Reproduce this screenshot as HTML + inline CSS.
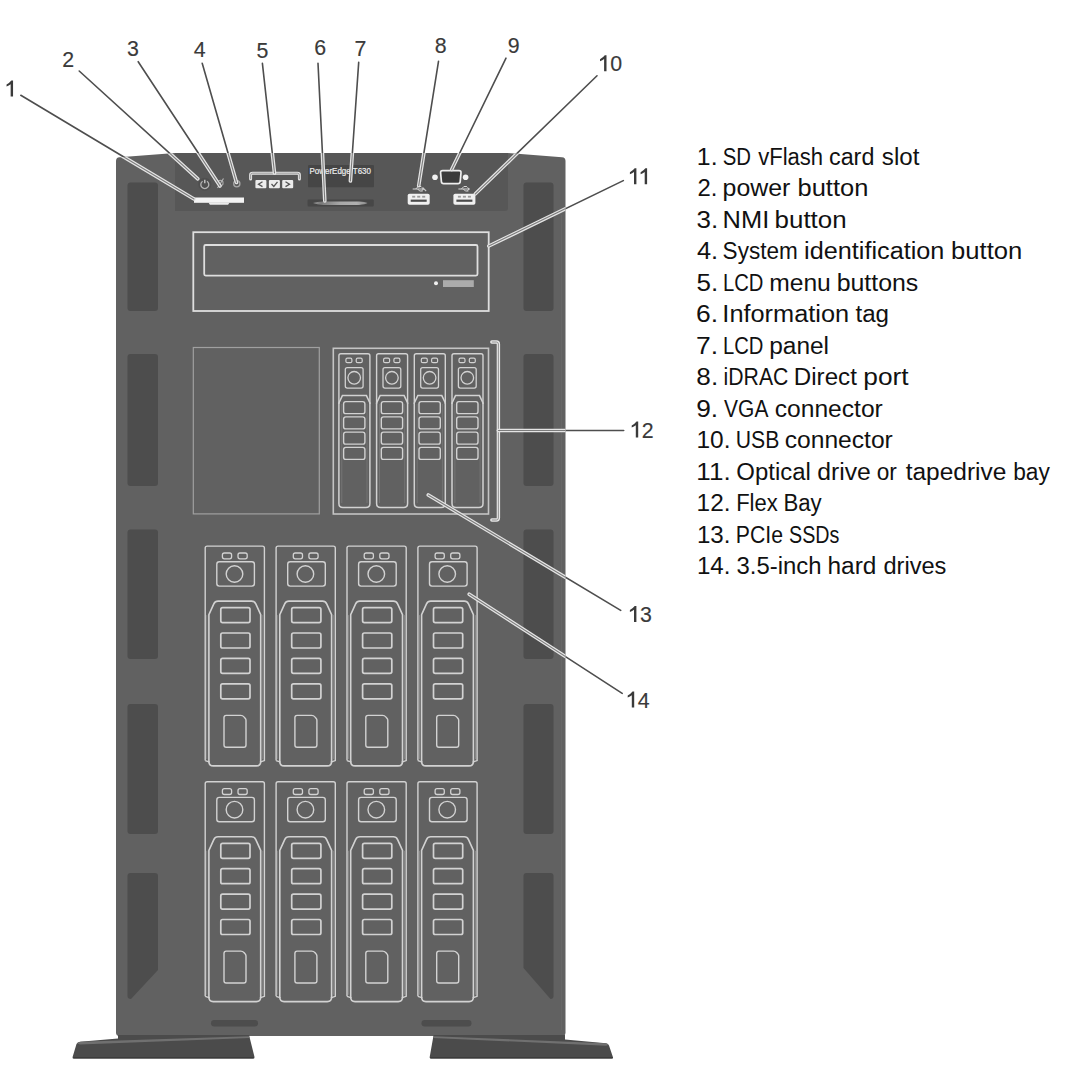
<!DOCTYPE html>
<html><head><meta charset="utf-8"><style>
html,body{margin:0;padding:0;background:#ffffff;width:1080px;height:1080px;overflow:hidden}
svg{display:block}
text{font-family:"Liberation Sans",sans-serif}
</style></head><body>
<svg width="1080" height="1080" viewBox="0 0 1080 1080">
<defs><linearGradient id="tagg" x1="0" x2="1" y1="0" y2="0"><stop offset="0" stop-color="#9a9a9a"/><stop offset="0.15" stop-color="#7a7a7a"/><stop offset="0.5" stop-color="#a8a8a8"/><stop offset="0.8" stop-color="#b0b0b0"/><stop offset="1" stop-color="#8a8a8a"/></linearGradient><clipPath id="bodyclip"><path d="M116,161 Q116,157.6 119.5,157.3 L175,153 L508,153 L562,157.3 Q565.5,157.6 565.5,161 L565.5,1032.5 Q565.5,1036 562,1036 L119.5,1036 Q116,1036 116,1032.5 Z"/></clipPath></defs>
<rect width="1080" height="1080" fill="#ffffff"/>
<path d="M116,161 Q116,157.6 119.5,157.3 L175,153 L508,153 L562,157.3 Q565.5,157.6 565.5,161 L565.5,1032.5 Q565.5,1036 562,1036 L119.5,1036 Q116,1036 116,1032.5 Z" fill="#616161"/><rect x="561" y="215" width="0.9" height="815" fill="#686868"/><path d="M175,153 L508,153 L508,208 Q508,211 505,211 L175,211 Z" fill="#575757"/><rect x="127.5" y="182.5" width="30.5" height="128.5" rx="3" fill="#4d4d4d"/><rect x="523.5" y="182.5" width="30" height="128.5" rx="3" fill="#4d4d4d"/><rect x="127.5" y="354" width="30.5" height="132" rx="3" fill="#4d4d4d"/><rect x="523.5" y="354" width="30" height="132" rx="3" fill="#4d4d4d"/><rect x="127.5" y="529.5" width="30.5" height="129.5" rx="3" fill="#4d4d4d"/><rect x="523.5" y="529.5" width="30" height="129.5" rx="3" fill="#4d4d4d"/><rect x="127.5" y="704" width="30.5" height="130" rx="3" fill="#4d4d4d"/><rect x="523.5" y="704" width="30" height="130" rx="3" fill="#4d4d4d"/><path d="M130.5,873 L155,873 Q158,873 158,876 L158,970 L131,999 Q127.5,999 127.5,996 L127.5,876 Q127.5,873 130.5,873 Z" fill="#4d4d4d"/><path d="M526.5,873 L550.5,873 Q553.5,873 553.5,876 L553.5,996 Q553.5,999 550.5,999 L523.5,968 L523.5,876 Q523.5,873 526.5,873 Z" fill="#4d4d4d"/><rect x="211" y="1020" width="47" height="6.5" rx="3.2" fill="#4d4d4d"/><rect x="421.5" y="1020" width="50" height="6.5" rx="3.2" fill="#4d4d4d"/><path d="M73.5,1058.5 Q72.2,1058.5 72.6,1057 L76.5,1044 Q77.3,1042 80,1041.7 L118,1038.5 L118,1035 L249,1035 L254.5,1057 Q254.8,1058.5 253.3,1058.5 Z" fill="#4b4b4b"/><path d="M77.2,1043.6 Q78,1042 80.5,1041.7 L249,1036.2 L249.4,1038 L80,1044.4 Z" fill="#707070"/><rect x="73" y="1057" width="181" height="1.6" rx="0.8" fill="#3c3c3c"/><path d="M612,1058.5 Q613.3,1058.5 612.9,1057 L609,1045.5 Q608.3,1043.6 606,1043.3 L565,1039.5 L565,1035 L433.6,1035 L429.7,1057 Q429.4,1058.5 431,1058.5 Z" fill="#4b4b4b"/><path d="M608.3,1045 Q607.5,1043.6 605.5,1043.3 L433.6,1036.2 L433.3,1038 L606,1045.8 Z" fill="#707070"/><rect x="430" y="1057" width="183" height="1.6" rx="0.8" fill="#3c3c3c"/><rect x="194" y="197.5" width="50" height="5.3" fill="#f4f4f4"/><path d="M208.5,202.5 L229.5,202.5 L228.5,204.3 Q228,204.8 227,204.8 L211,204.8 Q210,204.8 209.5,204.3 Z" fill="#ececec"/><circle cx="204.8" cy="184.2" r="6.5" fill="#4f4f4f"/><path d="M202.6,181.2 A4,4 0 1 0 207,181.2" fill="none" stroke="#b4b4b4" stroke-width="1.3"/><line x1="204.8" y1="179.8" x2="204.8" y2="183.2" stroke="#d0d0d0" stroke-width="1.3"/><circle cx="220.5" cy="183" r="2.6" fill="none" stroke="#a8a8a8" stroke-width="1.1"/><path d="M217.5,188 L223.5,178.5" stroke="#b8b8b8" stroke-width="1.1"/><circle cx="236.8" cy="183.8" r="3.1" fill="none" stroke="#a8a8a8" stroke-width="1.3"/><path d="M250.6,179 L250.6,175 Q250.6,173.2 252.6,173.2 L297.4,173.2 Q299.4,173.2 299.4,175 L299.4,179" fill="none" stroke="#e2e2e2" stroke-width="3" stroke-linecap="round"/><path d="M250.6,179 L250.6,175 Q250.6,173.2 252.6,173.2 L297.4,173.2 Q299.4,173.2 299.4,175 L299.4,179" fill="none" stroke="#8a8a8a" stroke-width="0.8"/><rect x="255.4" y="180" width="11" height="8.3" rx="1" fill="#ececec"/><rect x="268.9" y="180" width="11" height="8.3" rx="1" fill="#ececec"/><rect x="282.2" y="180" width="11" height="8.3" rx="1" fill="#ececec"/><path d="M262.5,181.8 L258.5,184.2 L262.5,186.6" fill="none" stroke="#555" stroke-width="1.3"/><path d="M271.5,184 L273.8,186.4 L277.5,181.8" fill="none" stroke="#555" stroke-width="1.3"/><path d="M285.5,181.8 L289.5,184.2 L285.5,186.6" fill="none" stroke="#555" stroke-width="1.3"/><rect x="308" y="165" width="66" height="22.2" rx="1" fill="#464646"/><text x="309.5" y="173.6" font-family="Liberation Sans" font-size="8.8" fill="#ededed" stroke="#ededed" stroke-width="0.2" textLength="61.5" lengthAdjust="spacingAndGlyphs">PowerEdge T630</text><rect x="307.6" y="199.5" width="66.2" height="7" rx="1" fill="#474747"/><path d="M313,203.1 Q317,201.6 323,201.4 L359,201.4 Q365,201.6 367.5,203.1 Q365,204.7 359,204.9 L323,204.9 Q317,204.7 313,203.1 Z" fill="url(#tagg)"/><rect x="407.7" y="193.8" width="22" height="11" rx="1.8" fill="#f0f0f0"/><rect x="410.7" y="199.6" width="16" height="2.2" fill="#4a4a4a"/><rect x="412.2" y="195.8" width="3" height="1.8" fill="#9a9a9a"/><rect x="417.2" y="195.8" width="3" height="1.8" fill="#9a9a9a"/><rect x="422.2" y="195.8" width="3" height="1.8" fill="#9a9a9a"/><path d="M412.7,189 L423.7,189 M423.7,189 l-2,-1.5 M423.7,189 l-2,1.5 M415.7,189 l2.5,-2.5 l3,0 M417.7,189 l2,2 l3,0" fill="none" stroke="#d8d8d8" stroke-width="1"/><rect x="453.4" y="193.8" width="22" height="11" rx="1.8" fill="#f0f0f0"/><rect x="456.4" y="199.6" width="16" height="2.2" fill="#4a4a4a"/><rect x="457.9" y="195.8" width="3" height="1.8" fill="#9a9a9a"/><rect x="462.9" y="195.8" width="3" height="1.8" fill="#9a9a9a"/><rect x="467.9" y="195.8" width="3" height="1.8" fill="#9a9a9a"/><path d="M458.4,189 L469.4,189 M469.4,189 l-2,-1.5 M469.4,189 l-2,1.5 M461.4,189 l2.5,-2.5 l3,0 M463.4,189 l2,2 l3,0" fill="none" stroke="#d8d8d8" stroke-width="1"/><path d="M442.6,170.6 L459,170.6 Q461.2,170.6 461,172.8 L460.2,181.6 Q460,183.6 458,183.6 L443.6,183.6 Q441.6,183.6 441.4,181.6 L440.6,172.8 Q440.4,170.6 442.6,170.6 Z" fill="#3c3c3c" stroke="#eeeeee" stroke-width="1.7"/><path d="M422.8,187.6 L426.2,191.2" stroke="#cfcfcf" stroke-width="1.1"/><circle cx="435" cy="177.3" r="2.8" fill="#f2f2f2"/><circle cx="465.6" cy="177.3" r="2.8" fill="#f2f2f2"/><rect x="193.3" y="232.2" width="295.4" height="78.8" fill="none" stroke="#dedede" stroke-width="1.8"/><rect x="204.2" y="245" width="273.3" height="30.6" rx="1.5" fill="none" stroke="#dedede" stroke-width="1.8"/><circle cx="436" cy="283.3" r="2" fill="#f0f0f0"/><rect x="443" y="280.2" width="30.8" height="6.8" fill="#ababab"/><rect x="193.3" y="347.5" width="126" height="166.4" fill="none" stroke="#a0a0a0" stroke-width="1.2"/><rect x="333.3" y="348.3" width="155.2" height="165.7" fill="none" stroke="#c4c4c4" stroke-width="1.6"/><path d="M491.8,342 L496.4,342 Q498.4,342 498.4,344 L498.4,518 Q498.4,520 496.4,520 L491.8,520" fill="none" stroke="#e6e6e6" stroke-width="3.4" stroke-linecap="round"/><path d="M491.8,342 L496.4,342 Q498.4,342 498.4,344 L498.4,518 Q498.4,520 496.4,520 L491.8,520" fill="none" stroke="#8a8a8a" stroke-width="0.9"/><path d="M338.9,404 L338.9,355.7 Q338.9,353.7 340.9,353.7 L367.9,353.7 Q369.9,353.7 369.9,355.7 L369.9,404" fill="none" stroke="#d2d2d2" stroke-width="1.4"/><path d="M338.9,403 L342.4,395.6 L366.4,395.6 L369.9,403 L369.9,503.5 Q369.9,507.5 365.9,507.5 L342.9,507.5 Q338.9,507.5 338.9,503.5 Z" fill="none" stroke="#d2d2d2" stroke-width="1.5"/><line x1="341.79999999999995" y1="404" x2="341.79999999999995" y2="503" stroke="#7a7a7a" stroke-width="0.8"/><line x1="367.0" y1="404" x2="367.0" y2="503" stroke="#7a7a7a" stroke-width="0.8"/><rect x="345.9" y="358.2" width="6" height="4.5" rx="1.5" fill="none" stroke="#d2d2d2" stroke-width="1.2"/><rect x="356.2" y="358.2" width="6" height="4.5" rx="1.5" fill="none" stroke="#d2d2d2" stroke-width="1.2"/><rect x="345.29999999999995" y="367.6" width="17.8" height="20.5" rx="2" fill="none" stroke="#d2d2d2" stroke-width="1.3"/><circle cx="354.2" cy="377.8" r="6.3" fill="none" stroke="#d2d2d2" stroke-width="1.3"/><rect x="343.59999999999997" y="401.60" width="21.3" height="12" rx="2.2" fill="none" stroke="#d2d2d2" stroke-width="1.4"/><rect x="343.59999999999997" y="416.85" width="21.3" height="12" rx="2.2" fill="none" stroke="#d2d2d2" stroke-width="1.4"/><rect x="343.59999999999997" y="432.10" width="21.3" height="12" rx="2.2" fill="none" stroke="#d2d2d2" stroke-width="1.4"/><rect x="343.59999999999997" y="447.35" width="21.3" height="12" rx="2.2" fill="none" stroke="#d2d2d2" stroke-width="1.4"/><path d="M376.6,404 L376.6,355.7 Q376.6,353.7 378.6,353.7 L405.6,353.7 Q407.6,353.7 407.6,355.7 L407.6,404" fill="none" stroke="#d2d2d2" stroke-width="1.4"/><path d="M376.6,403 L380.1,395.6 L404.1,395.6 L407.6,403 L407.6,503.5 Q407.6,507.5 403.6,507.5 L380.6,507.5 Q376.6,507.5 376.6,503.5 Z" fill="none" stroke="#d2d2d2" stroke-width="1.5"/><line x1="379.5" y1="404" x2="379.5" y2="503" stroke="#7a7a7a" stroke-width="0.8"/><line x1="404.70000000000005" y1="404" x2="404.70000000000005" y2="503" stroke="#7a7a7a" stroke-width="0.8"/><rect x="383.6" y="358.2" width="6" height="4.5" rx="1.5" fill="none" stroke="#d2d2d2" stroke-width="1.2"/><rect x="393.90000000000003" y="358.2" width="6" height="4.5" rx="1.5" fill="none" stroke="#d2d2d2" stroke-width="1.2"/><rect x="383.0" y="367.6" width="17.8" height="20.5" rx="2" fill="none" stroke="#d2d2d2" stroke-width="1.3"/><circle cx="391.90000000000003" cy="377.8" r="6.3" fill="none" stroke="#d2d2d2" stroke-width="1.3"/><rect x="381.3" y="401.60" width="21.3" height="12" rx="2.2" fill="none" stroke="#d2d2d2" stroke-width="1.4"/><rect x="381.3" y="416.85" width="21.3" height="12" rx="2.2" fill="none" stroke="#d2d2d2" stroke-width="1.4"/><rect x="381.3" y="432.10" width="21.3" height="12" rx="2.2" fill="none" stroke="#d2d2d2" stroke-width="1.4"/><rect x="381.3" y="447.35" width="21.3" height="12" rx="2.2" fill="none" stroke="#d2d2d2" stroke-width="1.4"/><path d="M414.3,404 L414.3,355.7 Q414.3,353.7 416.3,353.7 L443.3,353.7 Q445.3,353.7 445.3,355.7 L445.3,404" fill="none" stroke="#d2d2d2" stroke-width="1.4"/><path d="M414.3,403 L417.8,395.6 L441.8,395.6 L445.3,403 L445.3,503.5 Q445.3,507.5 441.3,507.5 L418.3,507.5 Q414.3,507.5 414.3,503.5 Z" fill="none" stroke="#d2d2d2" stroke-width="1.5"/><line x1="417.2" y1="404" x2="417.2" y2="503" stroke="#7a7a7a" stroke-width="0.8"/><line x1="442.40000000000003" y1="404" x2="442.40000000000003" y2="503" stroke="#7a7a7a" stroke-width="0.8"/><rect x="421.3" y="358.2" width="6" height="4.5" rx="1.5" fill="none" stroke="#d2d2d2" stroke-width="1.2"/><rect x="431.6" y="358.2" width="6" height="4.5" rx="1.5" fill="none" stroke="#d2d2d2" stroke-width="1.2"/><rect x="420.7" y="367.6" width="17.8" height="20.5" rx="2" fill="none" stroke="#d2d2d2" stroke-width="1.3"/><circle cx="429.6" cy="377.8" r="6.3" fill="none" stroke="#d2d2d2" stroke-width="1.3"/><rect x="419.0" y="401.60" width="21.3" height="12" rx="2.2" fill="none" stroke="#d2d2d2" stroke-width="1.4"/><rect x="419.0" y="416.85" width="21.3" height="12" rx="2.2" fill="none" stroke="#d2d2d2" stroke-width="1.4"/><rect x="419.0" y="432.10" width="21.3" height="12" rx="2.2" fill="none" stroke="#d2d2d2" stroke-width="1.4"/><rect x="419.0" y="447.35" width="21.3" height="12" rx="2.2" fill="none" stroke="#d2d2d2" stroke-width="1.4"/><path d="M452.0,404 L452.0,355.7 Q452.0,353.7 454.0,353.7 L481.0,353.7 Q483.0,353.7 483.0,355.7 L483.0,404" fill="none" stroke="#d2d2d2" stroke-width="1.4"/><path d="M452.0,403 L455.5,395.6 L479.5,395.6 L483.0,403 L483.0,503.5 Q483.0,507.5 479.0,507.5 L456.0,507.5 Q452.0,507.5 452.0,503.5 Z" fill="none" stroke="#d2d2d2" stroke-width="1.5"/><line x1="454.9" y1="404" x2="454.9" y2="503" stroke="#7a7a7a" stroke-width="0.8"/><line x1="480.1" y1="404" x2="480.1" y2="503" stroke="#7a7a7a" stroke-width="0.8"/><rect x="459.0" y="358.2" width="6" height="4.5" rx="1.5" fill="none" stroke="#d2d2d2" stroke-width="1.2"/><rect x="469.3" y="358.2" width="6" height="4.5" rx="1.5" fill="none" stroke="#d2d2d2" stroke-width="1.2"/><rect x="458.4" y="367.6" width="17.8" height="20.5" rx="2" fill="none" stroke="#d2d2d2" stroke-width="1.3"/><circle cx="467.3" cy="377.8" r="6.3" fill="none" stroke="#d2d2d2" stroke-width="1.3"/><rect x="456.7" y="401.60" width="21.3" height="12" rx="2.2" fill="none" stroke="#d2d2d2" stroke-width="1.4"/><rect x="456.7" y="416.85" width="21.3" height="12" rx="2.2" fill="none" stroke="#d2d2d2" stroke-width="1.4"/><rect x="456.7" y="432.10" width="21.3" height="12" rx="2.2" fill="none" stroke="#d2d2d2" stroke-width="1.4"/><rect x="456.7" y="447.35" width="21.3" height="12" rx="2.2" fill="none" stroke="#d2d2d2" stroke-width="1.4"/><path d="M205.2,760.6 L205.2,548.1 Q205.2,546.1 207.2,546.1 L262.4,546.1 Q264.4,546.1 264.4,548.1 L264.4,760.6 L259.9,762.1" fill="none" stroke="#d2d2d2" stroke-width="1.4"/><path d="M205.2,760.6 L209.7,762.1" fill="none" stroke="#d2d2d2" stroke-width="1.4"/><path d="M208.89999999999998,761.6 L208.89999999999998,614.6 L213.79999999999998,603.9 Q215.1,601.1 218.0,601.1 L251.59999999999997,601.1 Q254.49999999999997,601.1 255.79999999999998,603.9 L260.7,614.6 L260.7,761.6 Q260.7,765.9000000000001 256.4,765.9000000000001 L213.2,765.9000000000001 Q208.89999999999998,765.9000000000001 208.89999999999998,761.6 Z" fill="none" stroke="#d2d2d2" stroke-width="1.6"/><line x1="206.79999999999998" y1="615.1" x2="206.79999999999998" y2="759.1" stroke="#8a8a8a" stroke-width="0.9"/><line x1="262.79999999999995" y1="615.1" x2="262.79999999999995" y2="759.1" stroke="#8a8a8a" stroke-width="0.9"/><rect x="222.39999999999998" y="553.0" width="9.2" height="5.8" rx="2" fill="none" stroke="#d2d2d2" stroke-width="1.3"/><rect x="238.0" y="553.0" width="9.2" height="5.8" rx="2" fill="none" stroke="#d2d2d2" stroke-width="1.3"/><rect x="216.79999999999998" y="561.7" width="37.6" height="24.4" rx="2.5" fill="none" stroke="#d2d2d2" stroke-width="1.4"/><circle cx="234.5" cy="574.0" r="8.3" fill="none" stroke="#d2d2d2" stroke-width="1.4"/><rect x="220.79999999999998" y="607.60" width="29.2" height="15" rx="1.8" fill="none" stroke="#d2d2d2" stroke-width="1.7"/><rect x="220.79999999999998" y="633.00" width="29.2" height="15" rx="1.8" fill="none" stroke="#d2d2d2" stroke-width="1.7"/><rect x="220.79999999999998" y="658.40" width="29.2" height="15" rx="1.8" fill="none" stroke="#d2d2d2" stroke-width="1.7"/><rect x="220.79999999999998" y="683.80" width="29.2" height="15" rx="1.8" fill="none" stroke="#d2d2d2" stroke-width="1.7"/><path d="M226.2,715.4000000000001 L240.7,715.4000000000001 Q242.7,715.4000000000001 244.2,717.1 L245.5,718.7 Q246.0,719.4000000000001 246.0,720.6 L246.0,745.1 Q246.0,747.3 243.79999999999998,747.3 L226.2,747.3 Q224.0,747.3 224.0,745.1 L224.0,717.6 Q224.0,715.4000000000001 226.2,715.4000000000001 Z" fill="none" stroke="#d2d2d2" stroke-width="1.4"/><path d="M276.1,760.6 L276.1,548.1 Q276.1,546.1 278.1,546.1 L333.3,546.1 Q335.3,546.1 335.3,548.1 L335.3,760.6 L330.8,762.1" fill="none" stroke="#d2d2d2" stroke-width="1.4"/><path d="M276.1,760.6 L280.6,762.1" fill="none" stroke="#d2d2d2" stroke-width="1.4"/><path d="M279.8,761.6 L279.8,614.6 L284.70000000000005,603.9 Q286.0,601.1 288.90000000000003,601.1 L322.5,601.1 Q325.40000000000003,601.1 326.7,603.9 L331.6,614.6 L331.6,761.6 Q331.6,765.9000000000001 327.3,765.9000000000001 L284.1,765.9000000000001 Q279.8,765.9000000000001 279.8,761.6 Z" fill="none" stroke="#d2d2d2" stroke-width="1.6"/><line x1="277.70000000000005" y1="615.1" x2="277.70000000000005" y2="759.1" stroke="#8a8a8a" stroke-width="0.9"/><line x1="333.7" y1="615.1" x2="333.7" y2="759.1" stroke="#8a8a8a" stroke-width="0.9"/><rect x="293.3" y="553.0" width="9.2" height="5.8" rx="2" fill="none" stroke="#d2d2d2" stroke-width="1.3"/><rect x="308.90000000000003" y="553.0" width="9.2" height="5.8" rx="2" fill="none" stroke="#d2d2d2" stroke-width="1.3"/><rect x="287.70000000000005" y="561.7" width="37.6" height="24.4" rx="2.5" fill="none" stroke="#d2d2d2" stroke-width="1.4"/><circle cx="305.40000000000003" cy="574.0" r="8.3" fill="none" stroke="#d2d2d2" stroke-width="1.4"/><rect x="291.70000000000005" y="607.60" width="29.2" height="15" rx="1.8" fill="none" stroke="#d2d2d2" stroke-width="1.7"/><rect x="291.70000000000005" y="633.00" width="29.2" height="15" rx="1.8" fill="none" stroke="#d2d2d2" stroke-width="1.7"/><rect x="291.70000000000005" y="658.40" width="29.2" height="15" rx="1.8" fill="none" stroke="#d2d2d2" stroke-width="1.7"/><rect x="291.70000000000005" y="683.80" width="29.2" height="15" rx="1.8" fill="none" stroke="#d2d2d2" stroke-width="1.7"/><path d="M297.1,715.4000000000001 L311.6,715.4000000000001 Q313.6,715.4000000000001 315.1,717.1 L316.40000000000003,718.7 Q316.90000000000003,719.4000000000001 316.90000000000003,720.6 L316.90000000000003,745.1 Q316.90000000000003,747.3 314.70000000000005,747.3 L297.1,747.3 Q294.90000000000003,747.3 294.90000000000003,745.1 L294.90000000000003,717.6 Q294.90000000000003,715.4000000000001 297.1,715.4000000000001 Z" fill="none" stroke="#d2d2d2" stroke-width="1.4"/><path d="M347.0,760.6 L347.0,548.1 Q347.0,546.1 349.0,546.1 L404.2,546.1 Q406.2,546.1 406.2,548.1 L406.2,760.6 L401.7,762.1" fill="none" stroke="#d2d2d2" stroke-width="1.4"/><path d="M347.0,760.6 L351.5,762.1" fill="none" stroke="#d2d2d2" stroke-width="1.4"/><path d="M350.7,761.6 L350.7,614.6 L355.6,603.9 Q356.9,601.1 359.8,601.1 L393.4,601.1 Q396.3,601.1 397.59999999999997,603.9 L402.5,614.6 L402.5,761.6 Q402.5,765.9000000000001 398.2,765.9000000000001 L355.0,765.9000000000001 Q350.7,765.9000000000001 350.7,761.6 Z" fill="none" stroke="#d2d2d2" stroke-width="1.6"/><line x1="348.6" y1="615.1" x2="348.6" y2="759.1" stroke="#8a8a8a" stroke-width="0.9"/><line x1="404.59999999999997" y1="615.1" x2="404.59999999999997" y2="759.1" stroke="#8a8a8a" stroke-width="0.9"/><rect x="364.2" y="553.0" width="9.2" height="5.8" rx="2" fill="none" stroke="#d2d2d2" stroke-width="1.3"/><rect x="379.8" y="553.0" width="9.2" height="5.8" rx="2" fill="none" stroke="#d2d2d2" stroke-width="1.3"/><rect x="358.6" y="561.7" width="37.6" height="24.4" rx="2.5" fill="none" stroke="#d2d2d2" stroke-width="1.4"/><circle cx="376.3" cy="574.0" r="8.3" fill="none" stroke="#d2d2d2" stroke-width="1.4"/><rect x="362.6" y="607.60" width="29.2" height="15" rx="1.8" fill="none" stroke="#d2d2d2" stroke-width="1.7"/><rect x="362.6" y="633.00" width="29.2" height="15" rx="1.8" fill="none" stroke="#d2d2d2" stroke-width="1.7"/><rect x="362.6" y="658.40" width="29.2" height="15" rx="1.8" fill="none" stroke="#d2d2d2" stroke-width="1.7"/><rect x="362.6" y="683.80" width="29.2" height="15" rx="1.8" fill="none" stroke="#d2d2d2" stroke-width="1.7"/><path d="M368.0,715.4000000000001 L382.5,715.4000000000001 Q384.5,715.4000000000001 386.0,717.1 L387.3,718.7 Q387.8,719.4000000000001 387.8,720.6 L387.8,745.1 Q387.8,747.3 385.6,747.3 L368.0,747.3 Q365.8,747.3 365.8,745.1 L365.8,717.6 Q365.8,715.4000000000001 368.0,715.4000000000001 Z" fill="none" stroke="#d2d2d2" stroke-width="1.4"/><path d="M417.9,760.6 L417.9,548.1 Q417.9,546.1 419.9,546.1 L475.09999999999997,546.1 Q477.09999999999997,546.1 477.09999999999997,548.1 L477.09999999999997,760.6 L472.59999999999997,762.1" fill="none" stroke="#d2d2d2" stroke-width="1.4"/><path d="M417.9,760.6 L422.4,762.1" fill="none" stroke="#d2d2d2" stroke-width="1.4"/><path d="M421.59999999999997,761.6 L421.59999999999997,614.6 L426.5,603.9 Q427.79999999999995,601.1 430.7,601.1 L464.29999999999995,601.1 Q467.2,601.1 468.49999999999994,603.9 L473.4,614.6 L473.4,761.6 Q473.4,765.9000000000001 469.09999999999997,765.9000000000001 L425.9,765.9000000000001 Q421.59999999999997,765.9000000000001 421.59999999999997,761.6 Z" fill="none" stroke="#d2d2d2" stroke-width="1.6"/><line x1="419.5" y1="615.1" x2="419.5" y2="759.1" stroke="#8a8a8a" stroke-width="0.9"/><line x1="475.49999999999994" y1="615.1" x2="475.49999999999994" y2="759.1" stroke="#8a8a8a" stroke-width="0.9"/><rect x="435.09999999999997" y="553.0" width="9.2" height="5.8" rx="2" fill="none" stroke="#d2d2d2" stroke-width="1.3"/><rect x="450.7" y="553.0" width="9.2" height="5.8" rx="2" fill="none" stroke="#d2d2d2" stroke-width="1.3"/><rect x="429.5" y="561.7" width="37.6" height="24.4" rx="2.5" fill="none" stroke="#d2d2d2" stroke-width="1.4"/><circle cx="447.2" cy="574.0" r="8.3" fill="none" stroke="#d2d2d2" stroke-width="1.4"/><rect x="433.5" y="607.60" width="29.2" height="15" rx="1.8" fill="none" stroke="#d2d2d2" stroke-width="1.7"/><rect x="433.5" y="633.00" width="29.2" height="15" rx="1.8" fill="none" stroke="#d2d2d2" stroke-width="1.7"/><rect x="433.5" y="658.40" width="29.2" height="15" rx="1.8" fill="none" stroke="#d2d2d2" stroke-width="1.7"/><rect x="433.5" y="683.80" width="29.2" height="15" rx="1.8" fill="none" stroke="#d2d2d2" stroke-width="1.7"/><path d="M438.9,715.4000000000001 L453.4,715.4000000000001 Q455.4,715.4000000000001 456.9,717.1 L458.2,718.7 Q458.7,719.4000000000001 458.7,720.6 L458.7,745.1 Q458.7,747.3 456.5,747.3 L438.9,747.3 Q436.7,747.3 436.7,745.1 L436.7,717.6 Q436.7,715.4000000000001 438.9,715.4000000000001 Z" fill="none" stroke="#d2d2d2" stroke-width="1.4"/><path d="M205.2,996.3 L205.2,783.8 Q205.2,781.8 207.2,781.8 L262.4,781.8 Q264.4,781.8 264.4,783.8 L264.4,996.3 L259.9,997.8" fill="none" stroke="#d2d2d2" stroke-width="1.4"/><path d="M205.2,996.3 L209.7,997.8" fill="none" stroke="#d2d2d2" stroke-width="1.4"/><path d="M208.89999999999998,997.3 L208.89999999999998,850.3 L213.79999999999998,839.5999999999999 Q215.1,836.8 218.0,836.8 L251.59999999999997,836.8 Q254.49999999999997,836.8 255.79999999999998,839.5999999999999 L260.7,850.3 L260.7,997.3 Q260.7,1001.5999999999999 256.4,1001.5999999999999 L213.2,1001.5999999999999 Q208.89999999999998,1001.5999999999999 208.89999999999998,997.3 Z" fill="none" stroke="#d2d2d2" stroke-width="1.6"/><line x1="206.79999999999998" y1="850.8" x2="206.79999999999998" y2="994.8" stroke="#8a8a8a" stroke-width="0.9"/><line x1="262.79999999999995" y1="850.8" x2="262.79999999999995" y2="994.8" stroke="#8a8a8a" stroke-width="0.9"/><rect x="222.39999999999998" y="788.6999999999999" width="9.2" height="5.8" rx="2" fill="none" stroke="#d2d2d2" stroke-width="1.3"/><rect x="238.0" y="788.6999999999999" width="9.2" height="5.8" rx="2" fill="none" stroke="#d2d2d2" stroke-width="1.3"/><rect x="216.79999999999998" y="797.4" width="37.6" height="24.4" rx="2.5" fill="none" stroke="#d2d2d2" stroke-width="1.4"/><circle cx="234.5" cy="809.6999999999999" r="8.3" fill="none" stroke="#d2d2d2" stroke-width="1.4"/><rect x="220.79999999999998" y="843.30" width="29.2" height="15" rx="1.8" fill="none" stroke="#d2d2d2" stroke-width="1.7"/><rect x="220.79999999999998" y="868.70" width="29.2" height="15" rx="1.8" fill="none" stroke="#d2d2d2" stroke-width="1.7"/><rect x="220.79999999999998" y="894.10" width="29.2" height="15" rx="1.8" fill="none" stroke="#d2d2d2" stroke-width="1.7"/><rect x="220.79999999999998" y="919.50" width="29.2" height="15" rx="1.8" fill="none" stroke="#d2d2d2" stroke-width="1.7"/><path d="M226.2,951.0999999999999 L240.7,951.0999999999999 Q242.7,951.0999999999999 244.2,952.8 L245.5,954.4 Q246.0,955.0999999999999 246.0,956.3 L246.0,980.8 Q246.0,983.0 243.79999999999998,983.0 L226.2,983.0 Q224.0,983.0 224.0,980.8 L224.0,953.3 Q224.0,951.0999999999999 226.2,951.0999999999999 Z" fill="none" stroke="#d2d2d2" stroke-width="1.4"/><path d="M276.1,996.3 L276.1,783.8 Q276.1,781.8 278.1,781.8 L333.3,781.8 Q335.3,781.8 335.3,783.8 L335.3,996.3 L330.8,997.8" fill="none" stroke="#d2d2d2" stroke-width="1.4"/><path d="M276.1,996.3 L280.6,997.8" fill="none" stroke="#d2d2d2" stroke-width="1.4"/><path d="M279.8,997.3 L279.8,850.3 L284.70000000000005,839.5999999999999 Q286.0,836.8 288.90000000000003,836.8 L322.5,836.8 Q325.40000000000003,836.8 326.7,839.5999999999999 L331.6,850.3 L331.6,997.3 Q331.6,1001.5999999999999 327.3,1001.5999999999999 L284.1,1001.5999999999999 Q279.8,1001.5999999999999 279.8,997.3 Z" fill="none" stroke="#d2d2d2" stroke-width="1.6"/><line x1="277.70000000000005" y1="850.8" x2="277.70000000000005" y2="994.8" stroke="#8a8a8a" stroke-width="0.9"/><line x1="333.7" y1="850.8" x2="333.7" y2="994.8" stroke="#8a8a8a" stroke-width="0.9"/><rect x="293.3" y="788.6999999999999" width="9.2" height="5.8" rx="2" fill="none" stroke="#d2d2d2" stroke-width="1.3"/><rect x="308.90000000000003" y="788.6999999999999" width="9.2" height="5.8" rx="2" fill="none" stroke="#d2d2d2" stroke-width="1.3"/><rect x="287.70000000000005" y="797.4" width="37.6" height="24.4" rx="2.5" fill="none" stroke="#d2d2d2" stroke-width="1.4"/><circle cx="305.40000000000003" cy="809.6999999999999" r="8.3" fill="none" stroke="#d2d2d2" stroke-width="1.4"/><rect x="291.70000000000005" y="843.30" width="29.2" height="15" rx="1.8" fill="none" stroke="#d2d2d2" stroke-width="1.7"/><rect x="291.70000000000005" y="868.70" width="29.2" height="15" rx="1.8" fill="none" stroke="#d2d2d2" stroke-width="1.7"/><rect x="291.70000000000005" y="894.10" width="29.2" height="15" rx="1.8" fill="none" stroke="#d2d2d2" stroke-width="1.7"/><rect x="291.70000000000005" y="919.50" width="29.2" height="15" rx="1.8" fill="none" stroke="#d2d2d2" stroke-width="1.7"/><path d="M297.1,951.0999999999999 L311.6,951.0999999999999 Q313.6,951.0999999999999 315.1,952.8 L316.40000000000003,954.4 Q316.90000000000003,955.0999999999999 316.90000000000003,956.3 L316.90000000000003,980.8 Q316.90000000000003,983.0 314.70000000000005,983.0 L297.1,983.0 Q294.90000000000003,983.0 294.90000000000003,980.8 L294.90000000000003,953.3 Q294.90000000000003,951.0999999999999 297.1,951.0999999999999 Z" fill="none" stroke="#d2d2d2" stroke-width="1.4"/><path d="M347.0,996.3 L347.0,783.8 Q347.0,781.8 349.0,781.8 L404.2,781.8 Q406.2,781.8 406.2,783.8 L406.2,996.3 L401.7,997.8" fill="none" stroke="#d2d2d2" stroke-width="1.4"/><path d="M347.0,996.3 L351.5,997.8" fill="none" stroke="#d2d2d2" stroke-width="1.4"/><path d="M350.7,997.3 L350.7,850.3 L355.6,839.5999999999999 Q356.9,836.8 359.8,836.8 L393.4,836.8 Q396.3,836.8 397.59999999999997,839.5999999999999 L402.5,850.3 L402.5,997.3 Q402.5,1001.5999999999999 398.2,1001.5999999999999 L355.0,1001.5999999999999 Q350.7,1001.5999999999999 350.7,997.3 Z" fill="none" stroke="#d2d2d2" stroke-width="1.6"/><line x1="348.6" y1="850.8" x2="348.6" y2="994.8" stroke="#8a8a8a" stroke-width="0.9"/><line x1="404.59999999999997" y1="850.8" x2="404.59999999999997" y2="994.8" stroke="#8a8a8a" stroke-width="0.9"/><rect x="364.2" y="788.6999999999999" width="9.2" height="5.8" rx="2" fill="none" stroke="#d2d2d2" stroke-width="1.3"/><rect x="379.8" y="788.6999999999999" width="9.2" height="5.8" rx="2" fill="none" stroke="#d2d2d2" stroke-width="1.3"/><rect x="358.6" y="797.4" width="37.6" height="24.4" rx="2.5" fill="none" stroke="#d2d2d2" stroke-width="1.4"/><circle cx="376.3" cy="809.6999999999999" r="8.3" fill="none" stroke="#d2d2d2" stroke-width="1.4"/><rect x="362.6" y="843.30" width="29.2" height="15" rx="1.8" fill="none" stroke="#d2d2d2" stroke-width="1.7"/><rect x="362.6" y="868.70" width="29.2" height="15" rx="1.8" fill="none" stroke="#d2d2d2" stroke-width="1.7"/><rect x="362.6" y="894.10" width="29.2" height="15" rx="1.8" fill="none" stroke="#d2d2d2" stroke-width="1.7"/><rect x="362.6" y="919.50" width="29.2" height="15" rx="1.8" fill="none" stroke="#d2d2d2" stroke-width="1.7"/><path d="M368.0,951.0999999999999 L382.5,951.0999999999999 Q384.5,951.0999999999999 386.0,952.8 L387.3,954.4 Q387.8,955.0999999999999 387.8,956.3 L387.8,980.8 Q387.8,983.0 385.6,983.0 L368.0,983.0 Q365.8,983.0 365.8,980.8 L365.8,953.3 Q365.8,951.0999999999999 368.0,951.0999999999999 Z" fill="none" stroke="#d2d2d2" stroke-width="1.4"/><path d="M417.9,996.3 L417.9,783.8 Q417.9,781.8 419.9,781.8 L475.09999999999997,781.8 Q477.09999999999997,781.8 477.09999999999997,783.8 L477.09999999999997,996.3 L472.59999999999997,997.8" fill="none" stroke="#d2d2d2" stroke-width="1.4"/><path d="M417.9,996.3 L422.4,997.8" fill="none" stroke="#d2d2d2" stroke-width="1.4"/><path d="M421.59999999999997,997.3 L421.59999999999997,850.3 L426.5,839.5999999999999 Q427.79999999999995,836.8 430.7,836.8 L464.29999999999995,836.8 Q467.2,836.8 468.49999999999994,839.5999999999999 L473.4,850.3 L473.4,997.3 Q473.4,1001.5999999999999 469.09999999999997,1001.5999999999999 L425.9,1001.5999999999999 Q421.59999999999997,1001.5999999999999 421.59999999999997,997.3 Z" fill="none" stroke="#d2d2d2" stroke-width="1.6"/><line x1="419.5" y1="850.8" x2="419.5" y2="994.8" stroke="#8a8a8a" stroke-width="0.9"/><line x1="475.49999999999994" y1="850.8" x2="475.49999999999994" y2="994.8" stroke="#8a8a8a" stroke-width="0.9"/><rect x="435.09999999999997" y="788.6999999999999" width="9.2" height="5.8" rx="2" fill="none" stroke="#d2d2d2" stroke-width="1.3"/><rect x="450.7" y="788.6999999999999" width="9.2" height="5.8" rx="2" fill="none" stroke="#d2d2d2" stroke-width="1.3"/><rect x="429.5" y="797.4" width="37.6" height="24.4" rx="2.5" fill="none" stroke="#d2d2d2" stroke-width="1.4"/><circle cx="447.2" cy="809.6999999999999" r="8.3" fill="none" stroke="#d2d2d2" stroke-width="1.4"/><rect x="433.5" y="843.30" width="29.2" height="15" rx="1.8" fill="none" stroke="#d2d2d2" stroke-width="1.7"/><rect x="433.5" y="868.70" width="29.2" height="15" rx="1.8" fill="none" stroke="#d2d2d2" stroke-width="1.7"/><rect x="433.5" y="894.10" width="29.2" height="15" rx="1.8" fill="none" stroke="#d2d2d2" stroke-width="1.7"/><rect x="433.5" y="919.50" width="29.2" height="15" rx="1.8" fill="none" stroke="#d2d2d2" stroke-width="1.7"/><path d="M438.9,951.0999999999999 L453.4,951.0999999999999 Q455.4,951.0999999999999 456.9,952.8 L458.2,954.4 Q458.7,955.0999999999999 458.7,956.3 L458.7,980.8 Q458.7,983.0 456.5,983.0 L438.9,983.0 Q436.7,983.0 436.7,980.8 L436.7,953.3 Q436.7,951.0999999999999 438.9,951.0999999999999 Z" fill="none" stroke="#d2d2d2" stroke-width="1.4"/><line x1="20.8" y1="95.3" x2="194" y2="199" stroke="#4e4e4e" stroke-width="1.6" stroke-linecap="round"/><line x1="79.2" y1="71" x2="197.8" y2="178.8" stroke="#4e4e4e" stroke-width="1.6" stroke-linecap="round"/><line x1="138.2" y1="61.7" x2="220" y2="186" stroke="#4e4e4e" stroke-width="1.6" stroke-linecap="round"/><line x1="202.2" y1="63.3" x2="236.5" y2="182.5" stroke="#4e4e4e" stroke-width="1.6" stroke-linecap="round"/><line x1="262.4" y1="63.3" x2="274.5" y2="173" stroke="#4e4e4e" stroke-width="1.6" stroke-linecap="round"/><line x1="318" y1="63.3" x2="324.8" y2="201" stroke="#4e4e4e" stroke-width="1.6" stroke-linecap="round"/><line x1="358.7" y1="62.4" x2="350.4" y2="181" stroke="#4e4e4e" stroke-width="1.6" stroke-linecap="round"/><line x1="438.5" y1="61.3" x2="418.7" y2="185.7" stroke="#4e4e4e" stroke-width="1.6" stroke-linecap="round"/><line x1="506" y1="58.2" x2="451.7" y2="169.5" stroke="#4e4e4e" stroke-width="1.6" stroke-linecap="round"/><line x1="597" y1="75.8" x2="475.4" y2="193.8" stroke="#4e4e4e" stroke-width="1.6" stroke-linecap="round"/><line x1="623.3" y1="180.6" x2="488.8" y2="246" stroke="#4e4e4e" stroke-width="1.6" stroke-linecap="round"/><line x1="623.7" y1="430.5" x2="498.4" y2="430.5" stroke="#4e4e4e" stroke-width="1.6" stroke-linecap="round"/><line x1="620.7" y1="610.4" x2="428.3" y2="495" stroke="#4e4e4e" stroke-width="1.6" stroke-linecap="round"/><line x1="622.2" y1="693.3" x2="469.2" y2="594.2" stroke="#4e4e4e" stroke-width="1.6" stroke-linecap="round"/><g clip-path="url(#bodyclip)"><line x1="20.8" y1="95.3" x2="194" y2="199" stroke="#e4e4e4" stroke-width="3.6" stroke-linecap="round"/><line x1="79.2" y1="71" x2="197.8" y2="178.8" stroke="#e4e4e4" stroke-width="3.6" stroke-linecap="round"/><line x1="138.2" y1="61.7" x2="220" y2="186" stroke="#e4e4e4" stroke-width="3.6" stroke-linecap="round"/><line x1="202.2" y1="63.3" x2="236.5" y2="182.5" stroke="#e4e4e4" stroke-width="3.6" stroke-linecap="round"/><line x1="262.4" y1="63.3" x2="274.5" y2="173" stroke="#e4e4e4" stroke-width="3.6" stroke-linecap="round"/><line x1="318" y1="63.3" x2="324.8" y2="201" stroke="#e4e4e4" stroke-width="3.6" stroke-linecap="round"/><line x1="358.7" y1="62.4" x2="350.4" y2="181" stroke="#e4e4e4" stroke-width="3.6" stroke-linecap="round"/><line x1="438.5" y1="61.3" x2="418.7" y2="185.7" stroke="#e4e4e4" stroke-width="3.6" stroke-linecap="round"/><line x1="506" y1="58.2" x2="451.7" y2="169.5" stroke="#e4e4e4" stroke-width="3.6" stroke-linecap="round"/><line x1="597" y1="75.8" x2="475.4" y2="193.8" stroke="#e4e4e4" stroke-width="3.6" stroke-linecap="round"/><line x1="623.3" y1="180.6" x2="488.8" y2="246" stroke="#e4e4e4" stroke-width="3.6" stroke-linecap="round"/><line x1="623.7" y1="430.5" x2="498.4" y2="430.5" stroke="#e4e4e4" stroke-width="3.6" stroke-linecap="round"/><line x1="620.7" y1="610.4" x2="428.3" y2="495" stroke="#e4e4e4" stroke-width="3.6" stroke-linecap="round"/><line x1="622.2" y1="693.3" x2="469.2" y2="594.2" stroke="#e4e4e4" stroke-width="3.6" stroke-linecap="round"/><line x1="20.8" y1="95.3" x2="194" y2="199" stroke="#7c7c7c" stroke-width="1.1" stroke-linecap="round"/><line x1="79.2" y1="71" x2="197.8" y2="178.8" stroke="#7c7c7c" stroke-width="1.1" stroke-linecap="round"/><line x1="138.2" y1="61.7" x2="220" y2="186" stroke="#7c7c7c" stroke-width="1.1" stroke-linecap="round"/><line x1="202.2" y1="63.3" x2="236.5" y2="182.5" stroke="#7c7c7c" stroke-width="1.1" stroke-linecap="round"/><line x1="262.4" y1="63.3" x2="274.5" y2="173" stroke="#7c7c7c" stroke-width="1.1" stroke-linecap="round"/><line x1="318" y1="63.3" x2="324.8" y2="201" stroke="#7c7c7c" stroke-width="1.1" stroke-linecap="round"/><line x1="358.7" y1="62.4" x2="350.4" y2="181" stroke="#7c7c7c" stroke-width="1.1" stroke-linecap="round"/><line x1="438.5" y1="61.3" x2="418.7" y2="185.7" stroke="#7c7c7c" stroke-width="1.1" stroke-linecap="round"/><line x1="506" y1="58.2" x2="451.7" y2="169.5" stroke="#7c7c7c" stroke-width="1.1" stroke-linecap="round"/><line x1="597" y1="75.8" x2="475.4" y2="193.8" stroke="#7c7c7c" stroke-width="1.1" stroke-linecap="round"/><line x1="623.3" y1="180.6" x2="488.8" y2="246" stroke="#7c7c7c" stroke-width="1.1" stroke-linecap="round"/><line x1="623.7" y1="430.5" x2="498.4" y2="430.5" stroke="#7c7c7c" stroke-width="1.1" stroke-linecap="round"/><line x1="620.7" y1="610.4" x2="428.3" y2="495" stroke="#7c7c7c" stroke-width="1.1" stroke-linecap="round"/><line x1="622.2" y1="693.3" x2="469.2" y2="594.2" stroke="#7c7c7c" stroke-width="1.1" stroke-linecap="round"/></g><path d="M13.05,96.50 L10.65,96.50 L10.65,84.20 Q8.95,85.60 6.55,86.50 L6.55,84.40 Q9.45,83.00 11.35,80.50 L13.05,80.50 Z" fill="#3a3a3a"/><text x="0" y="0" transform="translate(68.15,66.8) scale(0.95,1)" text-anchor="middle" font-family="Liberation Sans" font-size="22.5" fill="#3a3a3a" stroke="#3a3a3a" stroke-width="0.15">2</text><text x="0" y="0" transform="translate(133.0,55.9) scale(0.95,1)" text-anchor="middle" font-family="Liberation Sans" font-size="22.5" fill="#3a3a3a" stroke="#3a3a3a" stroke-width="0.15">3</text><text x="0" y="0" transform="translate(199.6,56.5) scale(0.95,1)" text-anchor="middle" font-family="Liberation Sans" font-size="22.5" fill="#3a3a3a" stroke="#3a3a3a" stroke-width="0.15">4</text><text x="0" y="0" transform="translate(262.4,57.5) scale(0.95,1)" text-anchor="middle" font-family="Liberation Sans" font-size="22.5" fill="#3a3a3a" stroke="#3a3a3a" stroke-width="0.15">5</text><text x="0" y="0" transform="translate(320.3,55.4) scale(0.95,1)" text-anchor="middle" font-family="Liberation Sans" font-size="22.5" fill="#3a3a3a" stroke="#3a3a3a" stroke-width="0.15">6</text><text x="0" y="0" transform="translate(360.5,55.6) scale(0.95,1)" text-anchor="middle" font-family="Liberation Sans" font-size="22.5" fill="#3a3a3a" stroke="#3a3a3a" stroke-width="0.15">7</text><text x="0" y="0" transform="translate(440.8,53.3) scale(0.95,1)" text-anchor="middle" font-family="Liberation Sans" font-size="22.5" fill="#3a3a3a" stroke="#3a3a3a" stroke-width="0.15">8</text><text x="0" y="0" transform="translate(513.7,53.3) scale(0.95,1)" text-anchor="middle" font-family="Liberation Sans" font-size="22.5" fill="#3a3a3a" stroke="#3a3a3a" stroke-width="0.15">9</text><path d="M606.50,71.30 L604.10,71.30 L604.10,59.00 Q602.40,60.40 600.00,61.30 L600.00,59.20 Q602.90,57.80 604.80,55.30 L606.50,55.30 Z" fill="#3a3a3a"/><text x="0" y="0" transform="translate(616.3,71.1) scale(0.95,1)" text-anchor="middle" font-family="Liberation Sans" font-size="22.5" fill="#3a3a3a" stroke="#3a3a3a" stroke-width="0.15">0</text><path d="M636.40,184.30 L634.00,184.30 L634.00,172.00 Q632.30,173.40 629.90,174.30 L629.90,172.20 Q632.80,170.80 634.70,168.30 L636.40,168.30 Z" fill="#3a3a3a"/><path d="M647.10,184.30 L644.70,184.30 L644.70,172.00 Q643.00,173.40 640.60,174.30 L640.60,172.20 Q643.50,170.80 645.40,168.30 L647.10,168.30 Z" fill="#3a3a3a"/><path d="M638.20,437.60 L635.80,437.60 L635.80,425.30 Q634.10,426.70 631.70,427.60 L631.70,425.50 Q634.60,424.10 636.50,421.60 L638.20,421.60 Z" fill="#3a3a3a"/><text x="0" y="0" transform="translate(647.8,437.6) scale(0.95,1)" text-anchor="middle" font-family="Liberation Sans" font-size="22.5" fill="#3a3a3a" stroke="#3a3a3a" stroke-width="0.15">2</text><path d="M636.40,622.10 L634.00,622.10 L634.00,609.80 Q632.30,611.20 629.90,612.10 L629.90,610.00 Q632.80,608.60 634.70,606.10 L636.40,606.10 Z" fill="#3a3a3a"/><text x="0" y="0" transform="translate(646.0,621.9) scale(0.95,1)" text-anchor="middle" font-family="Liberation Sans" font-size="22.5" fill="#3a3a3a" stroke="#3a3a3a" stroke-width="0.15">3</text><path d="M634.20,707.50 L631.80,707.50 L631.80,695.20 Q630.10,696.60 627.70,697.50 L627.70,695.40 Q630.60,694.00 632.50,691.50 L634.20,691.50 Z" fill="#3a3a3a"/><text x="0" y="0" transform="translate(643.65,707.5) scale(0.95,1)" text-anchor="middle" font-family="Liberation Sans" font-size="22.5" fill="#3a3a3a" stroke="#3a3a3a" stroke-width="0.15">4</text><text x="696.87" y="164.60" font-family="Liberation Sans" font-size="23" fill="#111111" textLength="20.68" lengthAdjust="spacingAndGlyphs">1.</text><text x="722.73" y="164.60" font-family="Liberation Sans" font-size="23" fill="#111111" textLength="28.29" lengthAdjust="spacingAndGlyphs">SD</text><text x="758.20" y="164.60" font-family="Liberation Sans" font-size="23" fill="#111111" textLength="64.88" lengthAdjust="spacingAndGlyphs">vFlash</text><text x="828.99" y="164.60" font-family="Liberation Sans" font-size="23" fill="#111111" textLength="45.38" lengthAdjust="spacingAndGlyphs">card</text><text x="881.87" y="164.60" font-family="Liberation Sans" font-size="23" fill="#111111" textLength="37.53" lengthAdjust="spacingAndGlyphs">slot</text><text x="697.56" y="196.12" font-family="Liberation Sans" font-size="23" fill="#111111" textLength="19.90" lengthAdjust="spacingAndGlyphs">2.</text><text x="722.58" y="196.12" font-family="Liberation Sans" font-size="23" fill="#111111" textLength="67.80" lengthAdjust="spacingAndGlyphs">power</text><text x="797.54" y="196.12" font-family="Liberation Sans" font-size="23" fill="#111111" textLength="70.76" lengthAdjust="spacingAndGlyphs">button</text><text x="696.48" y="227.64" font-family="Liberation Sans" font-size="23" fill="#111111" textLength="21.67" lengthAdjust="spacingAndGlyphs">3.</text><text x="722.60" y="227.64" font-family="Liberation Sans" font-size="23" fill="#111111" textLength="46.68" lengthAdjust="spacingAndGlyphs">NMI</text><text x="774.61" y="227.64" font-family="Liberation Sans" font-size="23" fill="#111111" textLength="72.02" lengthAdjust="spacingAndGlyphs">button</text><text x="696.95" y="259.16" font-family="Liberation Sans" font-size="23" fill="#111111" textLength="21.15" lengthAdjust="spacingAndGlyphs">4.</text><text x="722.62" y="259.16" font-family="Liberation Sans" font-size="23" fill="#111111" textLength="75.13" lengthAdjust="spacingAndGlyphs">System</text><text x="804.05" y="259.16" font-family="Liberation Sans" font-size="23" fill="#111111" textLength="140.35" lengthAdjust="spacingAndGlyphs">identification</text><text x="951.03" y="259.16" font-family="Liberation Sans" font-size="23" fill="#111111" textLength="71.29" lengthAdjust="spacingAndGlyphs">button</text><text x="696.48" y="290.68" font-family="Liberation Sans" font-size="23" fill="#111111" textLength="21.67" lengthAdjust="spacingAndGlyphs">5.</text><text x="723.03" y="290.68" font-family="Liberation Sans" font-size="23" fill="#111111" textLength="40.45" lengthAdjust="spacingAndGlyphs">LCD</text><text x="769.19" y="290.68" font-family="Liberation Sans" font-size="23" fill="#111111" textLength="61.65" lengthAdjust="spacingAndGlyphs">menu</text><text x="836.68" y="290.68" font-family="Liberation Sans" font-size="23" fill="#111111" textLength="81.63" lengthAdjust="spacingAndGlyphs">buttons</text><text x="696.12" y="322.20" font-family="Liberation Sans" font-size="23" fill="#111111" textLength="22.08" lengthAdjust="spacingAndGlyphs">6.</text><text x="722.39" y="322.20" font-family="Liberation Sans" font-size="23" fill="#111111" textLength="126.72" lengthAdjust="spacingAndGlyphs">Information</text><text x="855.49" y="322.20" font-family="Liberation Sans" font-size="23" fill="#111111" textLength="33.56" lengthAdjust="spacingAndGlyphs">tag</text><text x="696.12" y="353.72" font-family="Liberation Sans" font-size="23" fill="#111111" textLength="22.08" lengthAdjust="spacingAndGlyphs">7.</text><text x="723.03" y="353.72" font-family="Liberation Sans" font-size="23" fill="#111111" textLength="40.45" lengthAdjust="spacingAndGlyphs">LCD</text><text x="769.20" y="353.72" font-family="Liberation Sans" font-size="23" fill="#111111" textLength="59.87" lengthAdjust="spacingAndGlyphs">panel</text><text x="696.36" y="385.24" font-family="Liberation Sans" font-size="23" fill="#111111" textLength="21.80" lengthAdjust="spacingAndGlyphs">8.</text><text x="723.62" y="385.24" font-family="Liberation Sans" font-size="23" fill="#111111" textLength="64.69" lengthAdjust="spacingAndGlyphs">iDRAC</text><text x="793.80" y="385.24" font-family="Liberation Sans" font-size="23" fill="#111111" textLength="63.06" lengthAdjust="spacingAndGlyphs">Direct</text><text x="863.29" y="385.24" font-family="Liberation Sans" font-size="23" fill="#111111" textLength="45.28" lengthAdjust="spacingAndGlyphs">port</text><text x="696.24" y="416.76" font-family="Liberation Sans" font-size="23" fill="#111111" textLength="21.94" lengthAdjust="spacingAndGlyphs">9.</text><text x="724.11" y="416.76" font-family="Liberation Sans" font-size="23" fill="#111111" textLength="44.26" lengthAdjust="spacingAndGlyphs">VGA</text><text x="774.73" y="416.76" font-family="Liberation Sans" font-size="23" fill="#111111" textLength="108.10" lengthAdjust="spacingAndGlyphs">connector</text><text x="696.49" y="448.28" font-family="Liberation Sans" font-size="23" fill="#111111" textLength="34.02" lengthAdjust="spacingAndGlyphs">10.</text><text x="735.84" y="448.28" font-family="Liberation Sans" font-size="23" fill="#111111" textLength="43.55" lengthAdjust="spacingAndGlyphs">USB</text><text x="784.73" y="448.28" font-family="Liberation Sans" font-size="23" fill="#111111" textLength="108.10" lengthAdjust="spacingAndGlyphs">connector</text><text x="696.38" y="479.80" font-family="Liberation Sans" font-size="23" fill="#111111" textLength="34.27" lengthAdjust="spacingAndGlyphs">11.</text><text x="736.36" y="479.80" font-family="Liberation Sans" font-size="23" fill="#111111" textLength="74.39" lengthAdjust="spacingAndGlyphs">Optical</text><text x="817.22" y="479.80" font-family="Liberation Sans" font-size="23" fill="#111111" textLength="53.60" lengthAdjust="spacingAndGlyphs">drive</text><text x="876.72" y="479.80" font-family="Liberation Sans" font-size="23" fill="#111111" textLength="20.13" lengthAdjust="spacingAndGlyphs">or</text><text x="905.68" y="479.80" font-family="Liberation Sans" font-size="23" fill="#111111" textLength="100.71" lengthAdjust="spacingAndGlyphs">tapedrive</text><text x="1013.22" y="479.80" font-family="Liberation Sans" font-size="23" fill="#111111" textLength="36.67" lengthAdjust="spacingAndGlyphs">bay</text><text x="696.60" y="511.32" font-family="Liberation Sans" font-size="23" fill="#111111" textLength="33.90" lengthAdjust="spacingAndGlyphs">12.</text><text x="736.18" y="511.32" font-family="Liberation Sans" font-size="23" fill="#111111" textLength="41.56" lengthAdjust="spacingAndGlyphs">Flex</text><text x="783.47" y="511.32" font-family="Liberation Sans" font-size="23" fill="#111111" textLength="38.26" lengthAdjust="spacingAndGlyphs">Bay</text><text x="696.92" y="542.84" font-family="Liberation Sans" font-size="23" fill="#111111" textLength="33.56" lengthAdjust="spacingAndGlyphs">13.</text><text x="735.75" y="542.84" font-family="Liberation Sans" font-size="23" fill="#111111" textLength="47.21" lengthAdjust="spacingAndGlyphs">PCIe</text><text x="789.06" y="542.84" font-family="Liberation Sans" font-size="23" fill="#111111" textLength="50.32" lengthAdjust="spacingAndGlyphs">SSDs</text><text x="696.92" y="574.36" font-family="Liberation Sans" font-size="23" fill="#111111" textLength="33.56" lengthAdjust="spacingAndGlyphs">14.</text><text x="736.56" y="574.36" font-family="Liberation Sans" font-size="23" fill="#111111" textLength="85.02" lengthAdjust="spacingAndGlyphs">3.5-inch</text><text x="827.50" y="574.36" font-family="Liberation Sans" font-size="23" fill="#111111" textLength="48.93" lengthAdjust="spacingAndGlyphs">hard</text><text x="883.47" y="574.36" font-family="Liberation Sans" font-size="23" fill="#111111" textLength="62.90" lengthAdjust="spacingAndGlyphs">drives</text>
</svg>
</body></html>
